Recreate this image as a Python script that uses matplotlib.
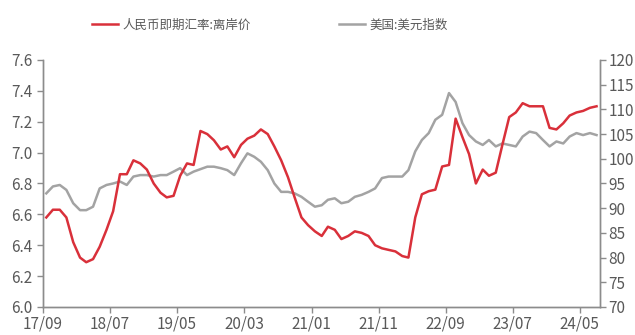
import numpy as np
import pandas as pd
import matplotlib as mpl
import matplotlib.pyplot as plt
import matplotlib.dates as mdates

mpl.use('agg')

plt.rcParams['font.family'] = ['Liberation Sans Narrow', 'Noto Sans CJK SC', 'DejaVu Sans']

# monthly readings, 2017-09 .. 2024-07
months = pd.date_range('2017-09-01', periods=83, freq='MS') + pd.Timedelta(days=15)

cnh = np.array([
    6.58, 6.63, 6.63, 6.58, 6.42, 6.32, 6.29, 6.31, 6.39, 6.50,
    6.62, 6.86, 6.86, 6.95, 6.93, 6.89, 6.80, 6.74, 6.71, 6.72,
    6.85, 6.93, 6.92, 7.14, 7.12, 7.08, 7.02, 7.04, 6.97, 7.05,
    7.09, 7.11, 7.15, 7.12, 7.04, 6.95, 6.84, 6.71, 6.58, 6.53,
    6.49, 6.46, 6.52, 6.50, 6.44, 6.46, 6.49, 6.48, 6.46, 6.40,
    6.38, 6.37, 6.36, 6.33, 6.32, 6.58, 6.73, 6.75, 6.76, 6.91,
    6.92, 7.22, 7.10, 6.99, 6.80, 6.89, 6.85, 6.87, 7.05, 7.23,
    7.26, 7.32, 7.30, 7.30, 7.30, 7.16, 7.15, 7.19, 7.24, 7.26,
    7.27, 7.29, 7.30,
])

dxy = np.array([
    93.0, 94.4, 94.7, 93.7, 91.0, 89.6, 89.6, 90.3, 94.0, 94.7,
    95.0, 95.4, 94.7, 96.4, 96.7, 96.7, 96.4, 96.7, 96.7, 97.4,
    98.1, 96.7, 97.4, 97.9, 98.4, 98.4, 98.1, 97.7, 96.7, 99.1,
    101.1, 100.4, 99.4, 97.7, 95.0, 93.3, 93.3, 93.0, 92.3, 91.3,
    90.3, 90.6, 91.7, 92.0, 91.0, 91.3, 92.3, 92.7, 93.3, 94.0,
    96.1, 96.4, 96.4, 96.4, 97.7, 101.5, 103.8, 105.2, 107.9, 108.9,
    113.3, 111.5, 107.2, 104.8, 103.5, 102.8, 103.8, 102.5, 103.1, 102.8,
    102.5, 104.5, 105.5, 105.2, 103.8, 102.5, 103.5, 103.1, 104.5, 105.2,
    104.8, 105.2, 104.8,
])

tick_dates = pd.date_range('2017-09-01', periods=9, freq='10MS')

red = '#d9303a'
grey = '#a3a3a3'
txt = '#595959'
axc = '#8c8c8c'

fig = plt.figure(figsize=(6.35, 3.35), dpi=100)
ax = fig.add_axes([0.0677, 0.0836, 0.8773, 0.7374])
ax2 = ax.twinx()

l1, = ax.plot(months, cnh, color=red, lw=1.8, label='人民币即期汇率:离岸价')
l2, = ax2.plot(months, dxy, color=grey, lw=1.8, label='美国:美元指数')
ax.set_zorder(ax2.get_zorder() + 1)
ax.patch.set_visible(False)

ax.set_ylim(6.0, 7.6)
ax.set_yticks(np.arange(6.0, 7.61, 0.2))
ax.yaxis.set_major_formatter(mpl.ticker.FormatStrFormatter('%.1f'))
ax2.set_ylim(70, 120)
ax2.set_yticks(np.arange(70, 121, 5))

ax.set_xlim(pd.Timestamp('2017-09-01'), pd.Timestamp('2024-08-01'))
ax.set_xticks(tick_dates)
ax.xaxis.set_major_formatter(mdates.DateFormatter('%y/%m'))

for a in (ax, ax2):
    a.spines['top'].set_visible(False)
    for s in ('left', 'right', 'bottom'):
        a.spines[s].set_color(axc)
        a.spines[s].set_linewidth(1.0)
    a.tick_params(colors=axc, labelcolor=txt, labelsize=11, length=4, width=1.0)
ax.tick_params(axis='x', pad=2)
ax2.tick_params(pad=2)

fig.legend(handles=[l1, l2], loc='center', bbox_to_anchor=(0.425, 0.925), ncol=2,
           frameon=False, fontsize=9, labelcolor=txt, columnspacing=7.0,
           handlelength=2.1, handletextpad=0.4)

plt.savefig('out.png', dpi=100)
